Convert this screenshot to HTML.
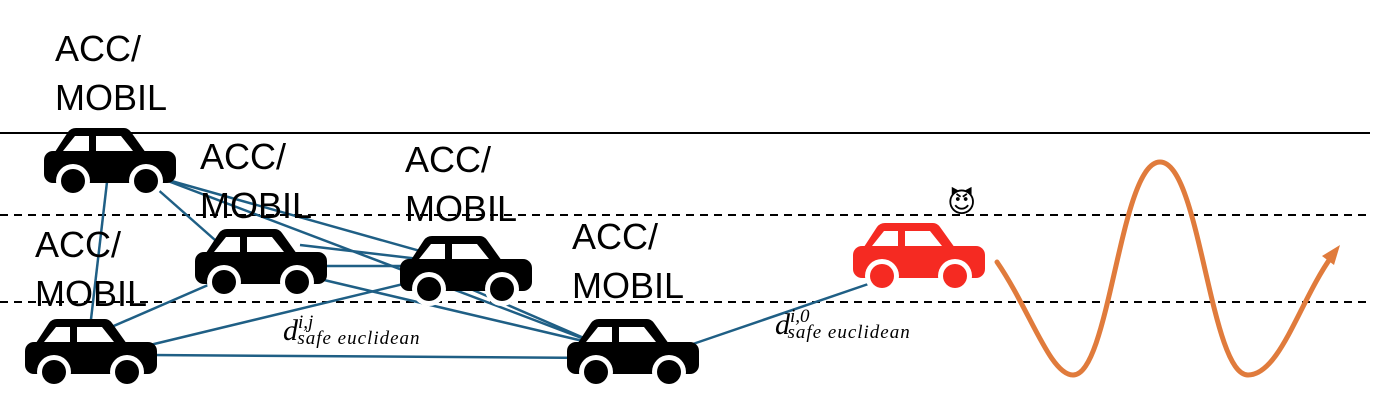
<!DOCTYPE html>
<html><head><meta charset="utf-8"><style>
body{margin:0;background:#fff;width:1381px;height:400px;overflow:hidden;position:relative;font-family:"Liberation Sans",sans-serif}
.l{position:absolute;font-size:36px;line-height:49px;color:#000}
.m{position:absolute;font-family:"Liberation Serif",serif;font-style:italic;color:#000;white-space:nowrap}
.m .d{font-size:30px}.m sup{font-size:19px;position:relative;top:-6px}.m sub{font-size:19px;letter-spacing:1px}
</style></head><body>
<svg width="1381" height="400" style="position:absolute;left:0;top:0">
<defs>
<g id="car">
<path d="M9,28 L24,5 Q27,1 32,1 L80,1 Q84,1 87,5 L102,26 Z"/>
<rect x="0" y="24" width="132" height="32" rx="9"/>
<path d="M19,24 L31,9 L45,9 L45,24 Z M52,9 L77,9 L89,24 L52,24 Z" fill="#fff"/>
<circle cx="29" cy="54" r="17" fill="#fff"/><circle cx="102" cy="54" r="17" fill="#fff"/>
<circle cx="29" cy="54" r="12"/><circle cx="102" cy="54" r="12"/>
</g>
</defs>
<line x1="0" y1="133" x2="1370" y2="133" stroke="#000" stroke-width="2"/>
<line x1="0" y1="215" x2="1370" y2="215" stroke="#000" stroke-width="2" stroke-dasharray="8,6"/>
<line x1="0" y1="302" x2="1370" y2="302" stroke="#000" stroke-width="2" stroke-dasharray="8,6"/>
<g stroke="#1f5f85" stroke-width="2.5">
<line x1="107" y1="182" x2="88" y2="345"/>
<line x1="147" y1="180" x2="215" y2="240"/>
<line x1="150" y1="175" x2="445" y2="258"/>
<line x1="160" y1="178" x2="600" y2="345"/>
<line x1="215" y1="282" x2="70" y2="345"/>
<line x1="320" y1="266" x2="405" y2="266"/>
<line x1="290" y1="272" x2="600" y2="345"/>
<line x1="300" y1="245" x2="445" y2="262"/>
<line x1="150" y1="345" x2="420" y2="280"/>
<line x1="150" y1="355" x2="600" y2="358"/>
<line x1="450" y1="280" x2="600" y2="345"/>
<line x1="690" y1="345" x2="880" y2="280"/>
</g>
<use href="#car" x="44" y="127"/>
<use href="#car" x="195" y="228"/>
<use href="#car" x="400" y="235"/>
<use href="#car" x="25" y="318"/>
<use href="#car" x="567" y="318"/>
<use href="#car" x="853" y="222" fill="#f52a22"/>
<path d="M997,262 C1030,310 1050,375 1073,375 C1110,375 1120,162 1160,162 C1200,162 1210,375 1248,375 C1280,375 1300,300 1332,256" fill="none" stroke="#e07b3c" stroke-width="5" stroke-linecap="round"/>
<polygon points="1340,245 1322,256 1334,265" fill="#e07b3c"/>
</svg>
<div style="position:absolute;left:947px;top:186px;font-size:28px;font-family:'DejaVu Sans',sans-serif">😈</div>
<div class="l" style="left:55px;top:24px">ACC/<br>MOBIL</div>
<div class="l" style="left:200px;top:132px">ACC/<br>MOBIL</div>
<div class="l" style="left:405px;top:135px">ACC/<br>MOBIL</div>
<div class="l" style="left:35px;top:220px">ACC/<br>MOBIL</div>
<div class="l" style="left:572px;top:212px">ACC/<br>MOBIL</div>
<div class="m" style="left:283px;top:314px"><span class="d">d</span><sup>i,j</sup><sub style="margin-left:-16px">safe euclidean</sub></div>
<div class="m" style="left:775px;top:308px"><span class="d">d</span><sup>i,0</sup><sub style="margin-left:-22px">safe euclidean</sub></div>
</body></html>
